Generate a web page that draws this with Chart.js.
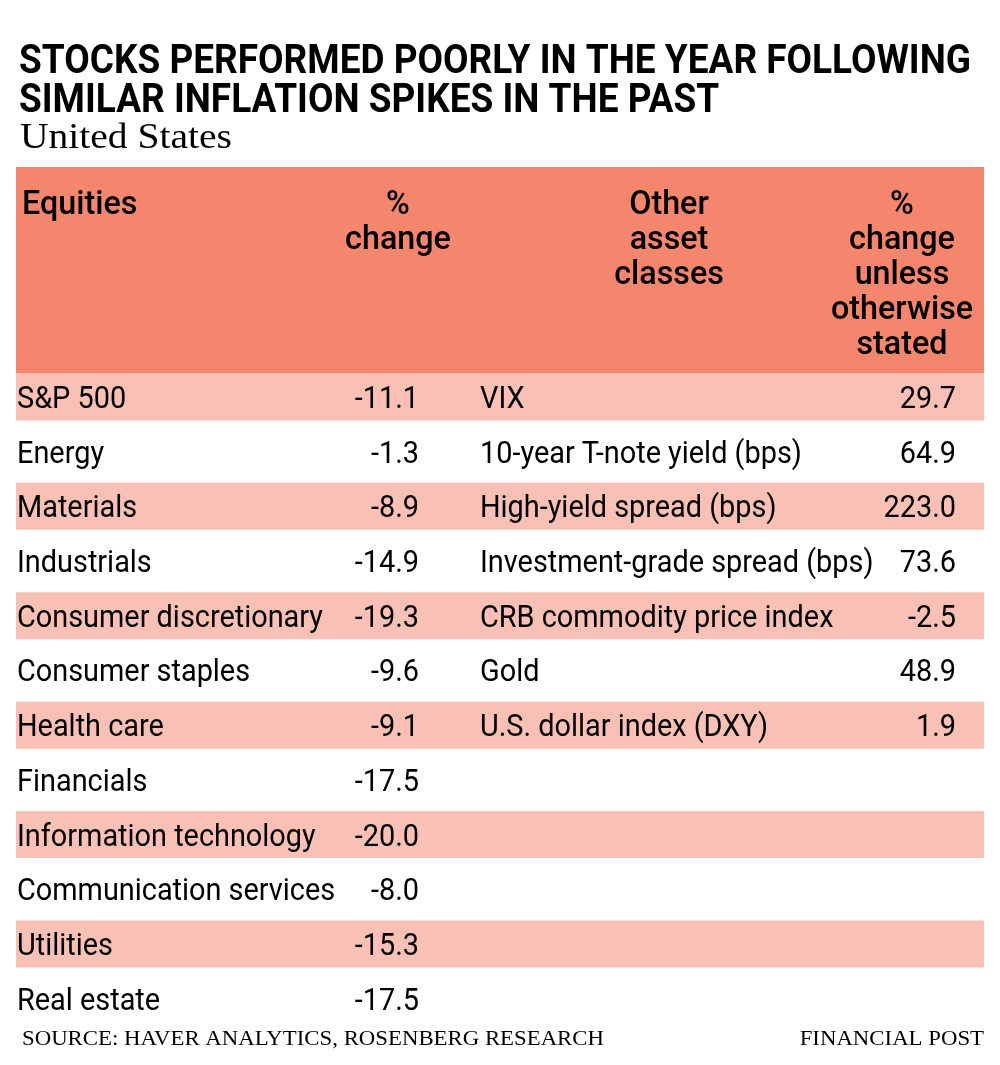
<!DOCTYPE html>
<html>
<head>
<meta charset="utf-8">
<script src="https://cdn.jsdelivr.net/npm/chart.js@4"></script>
<style>
  body { margin: 0; background: #fff; }
  canvas { display: block; }
</style>
</head>
<body>
<canvas id="table" width="1000" height="1065"></canvas>
<script>
// table data
const equityNames = ['S&P 500', 'Energy', 'Materials', 'Industrials', 'Consumer discretionary',
  'Consumer staples', 'Health care', 'Financials', 'Information technology',
  'Communication services', 'Utilities', 'Real estate'];
const equityChanges = [-11.1, -1.3, -8.9, -14.9, -19.3, -9.6, -9.1, -17.5, -20.0, -8.0, -15.3, -17.5];
const otherNames = ['VIX', '10-year T-note yield (bps)', 'High-yield spread (bps)',
  'Investment-grade spread (bps)', 'CRB commodity price index', 'Gold', 'U.S. dollar index (DXY)'];
const otherChanges = [29.7, 64.9, 223.0, 73.6, -2.5, 48.9, 1.9];
const headers = [['Equities'], ['%', 'change'], ['Other', 'asset', 'classes'],
  ['%', 'change', 'unless', 'otherwise', 'stated']];

const SANS = 'Roboto, "Noto Sans", sans-serif';
const SERIF = '"Liberation Serif", "DejaVu Serif", serif';
const HEADER_BG = '#f5866e';
const STRIPE_BG = '#f9c0b5';

// draw text squeezed horizontally (the original uses a condensed face)
function drawText(ctx, text, x, y, font, align, sx) {
  ctx.save();
  ctx.font = font;
  ctx.textAlign = align;
  ctx.textBaseline = 'alphabetic';
  ctx.fillStyle = '#000';
  ctx.translate(x, y);
  ctx.scale(sx, 1);
  ctx.fillText(text, 0, 0);
  ctx.restore();
}

function fitScale(ctx, text, font, width) {
  ctx.save();
  ctx.font = font;
  const w = ctx.measureText(text).width;
  ctx.restore();
  return width / w;
}

const tablePlugin = {
  id: 'tableText',
  beforeDatasetsDraw(chart) {
    const { ctx, chartArea } = chart;
    const bar = chart.getDatasetMeta(0).data[0];
    const top = bar.y - bar.height / 2;
    ctx.save();
    ctx.fillStyle = HEADER_BG;
    ctx.fillRect(chartArea.left, 167, chartArea.right - chartArea.left, top - 167);
    ctx.restore();
  },
  afterDatasetsDraw(chart) {
    const { ctx, chartArea } = chart;
    const x = chart.scales.x;
    const y = chart.scales.y;
    const L = chartArea.left;

    // title + subtitle
    const titleFont = 'bold 40px ' + SANS;
    const tsx = fitScale(ctx, 'STOCKS PERFORMED POORLY IN THE YEAR FOLLOWING', titleFont, 952);
    drawText(ctx, 'STOCKS PERFORMED POORLY IN THE YEAR FOLLOWING', 19, 73, titleFont, 'left', tsx);
    drawText(ctx, 'SIMILAR INFLATION SPIKES IN THE PAST', 19, 112, titleFont, 'left', tsx);
    const subFont = '35px ' + SERIF;
    drawText(ctx, 'United States', 20, 148, subFont, 'left', fitScale(ctx, 'United States', subFont, 212));

    // header
    const hFont = '500 34px ' + SANS;
    const hsx = 0.95;
    const hx = [[L + 6, 'left'], [x.getPixelForValue(382), 'center'],
      [x.getPixelForValue(653), 'center'], [x.getPixelForValue(886), 'center']];
    headers.forEach((lines, c) => {
      lines.forEach((t, k) => {
        drawText(ctx, t, hx[c][0], 214 + k * 35, hFont, hx[c][1], hsx);
      });
    });

    // rows
    const bFont = '31px ' + SANS;
    const bsx = fitScale(ctx, 'Consumer discretionary', bFont, 306);
    equityNames.forEach((name, i) => {
      const cy = y.getPixelForValue(i) + 11;
      drawText(ctx, name, L + 1, cy, bFont, 'left', bsx);
      drawText(ctx, equityChanges[i].toFixed(1), x.getPixelForValue(403), cy, bFont, 'right', bsx);
    });
    otherNames.forEach((name, i) => {
      const cy = y.getPixelForValue(i) + 11;
      drawText(ctx, name, x.getPixelForValue(464), cy, bFont, 'left', bsx);
      drawText(ctx, otherChanges[i].toFixed(1), x.getPixelForValue(940), cy, bFont, 'right', bsx);
    });

    // footer
    const sFont = '21px ' + SERIF;
    const ssx = fitScale(ctx, 'SOURCE: HAVER ANALYTICS, ROSENBERG RESEARCH', sFont, 582);
    drawText(ctx, 'SOURCE: HAVER ANALYTICS, ROSENBERG RESEARCH', 22, 1045, sFont, 'left', ssx);
    drawText(ctx, 'FINANCIAL POST', chartArea.right, 1045, sFont, 'right', ssx);
  }
};

new Chart(document.getElementById('table'), {
  type: 'bar',
  data: {
    labels: equityNames,
    datasets: [{
      data: equityNames.map((_, i) => (i % 2 === 0 ? [0, 968] : null)),
      backgroundColor: STRIPE_BG,
      borderWidth: 0,
      barPercentage: 0.86,
      categoryPercentage: 1
    }]
  },
  options: {
    indexAxis: 'y',
    responsive: false,
    animation: false,
    devicePixelRatio: 1,
    layout: { padding: { left: 16, right: 16, top: 369.6, bottom: 39 } },
    scales: {
      x: { type: 'linear', min: 0, max: 968, display: false },
      y: { type: 'category', display: false, grid: { display: false } }
    },
    plugins: { legend: { display: false }, tooltip: { enabled: false } }
  },
  plugins: [tablePlugin]
});
</script>
</body>
</html>
